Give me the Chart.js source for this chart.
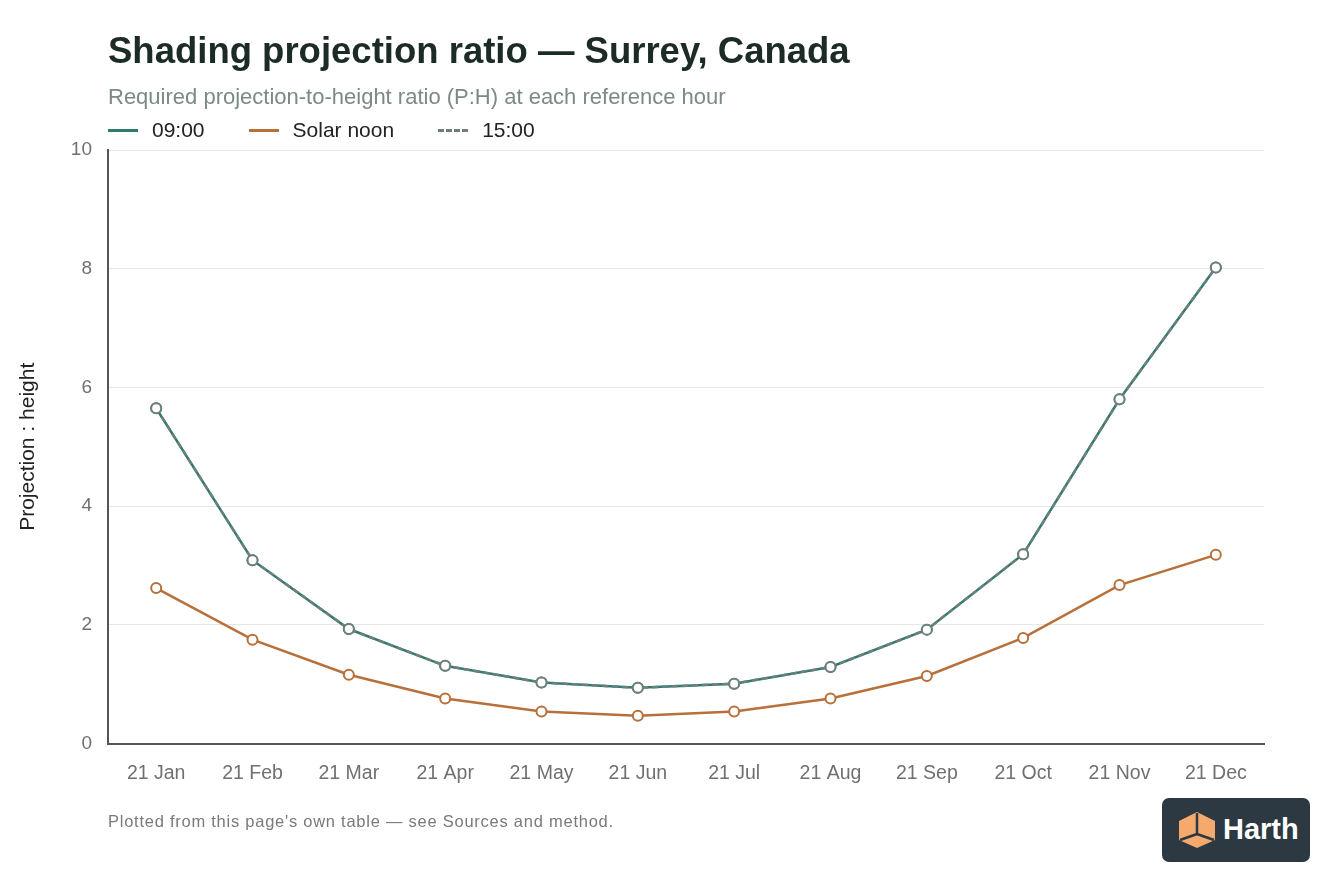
<!DOCTYPE html>
<html>
<head>
<meta charset="utf-8">
<script src="https://cdn.jsdelivr.net/npm/chart.js@4.4.1/dist/chart.umd.min.js"></script>
<style>
  body { margin: 0; background: #fff; font-family: "Liberation Sans", Arial, sans-serif; }
  #wrap { position: relative; width: 1344px; height: 896px; overflow: hidden; }
  #title { position: absolute; left: 108px; top: 30px; font-size: 36.5px; font-weight: bold; color: #1c2b26; white-space: nowrap; }
  #subtitle { position: absolute; left: 108px; top: 84px; font-size: 22px; color: #7b8a86; white-space: nowrap; }
  #legend { position: absolute; left: 108px; top: 118px; display: flex; font-size: 21px; color: #222; }
  .item { display: flex; align-items: center; margin-right: 44px; }
  .swatch { width: 30px; height: 0; margin-right: 14px; }
  #footer { position: absolute; left: 108px; top: 812px; font-size: 16.5px; letter-spacing: 0.75px; color: #7a7a7a; white-space: nowrap; }
  #logo { position: absolute; left: 1162px; top: 798px; width: 148px; height: 64px; background: #2c3942; border-radius: 7px; }
  #logo span { position: absolute; left: 61px; top: 15px; font-size: 29px; font-weight: bold; color: #fff; }
  #logo svg { position: absolute; left: 14px; top: 12px; }
  canvas { position: absolute; left: 0; top: 0; }
</style>
</head>
<body>
<div id="wrap">
  <canvas id="chart" width="1344" height="896"></canvas>
  <div id="title">Shading projection ratio — Surrey, Canada</div>
  <div id="subtitle">Required projection-to-height ratio (P:H) at each reference hour</div>
  <div id="legend"></div>
  <div id="footer">Plotted from this page's own table — see Sources and method.</div>
  <div id="logo">
    <svg width="42" height="40" viewBox="0 0 42 40">
      <polygon points="21,2 39,11 39,30 21,38 3,30 3,11" fill="#f6a96c"/>
      <polyline points="21,3 21,24 4,30" fill="none" stroke="#2c3942" stroke-width="2.5"/>
      <line x1="21" y1="24" x2="38" y2="30" stroke="#2c3942" stroke-width="2.5"/>
    </svg>
    <span>Harth</span>
  </div>
</div>
<script>
// Data
const months = ['21 Jan', '21 Feb', '21 Mar', '21 Apr', '21 May', '21 Jun',
                '21 Jul', '21 Aug', '21 Sep', '21 Oct', '21 Nov', '21 Dec'];
const ratio0900 = [5.65, 3.09, 1.93, 1.31, 1.03, 0.94, 1.01, 1.29, 1.92, 3.19, 5.80, 8.02];
const ratioNoon = [2.62, 1.75, 1.16, 0.76, 0.54, 0.47, 0.54, 0.76, 1.14, 1.78, 2.67, 3.18];
const ratio1500 = [5.65, 3.09, 1.93, 1.31, 1.03, 0.94, 1.01, 1.29, 1.92, 3.19, 5.80, 8.02];
const yTicks = [0, 2, 4, 6, 8, 10];

const teal = '#2e7b72';
const orange = '#b8703a';
const grey = '#6f807c';

function series(label, data, color, dash, order) {
  return {
    label: label,
    data: data,
    borderColor: color,
    borderWidth: 2.5,
    borderDash: dash,
    pointRadius: 5,
    pointBorderWidth: 2,
    pointBorderColor: color,
    pointBackgroundColor: '#fff',
    tension: 0,
    order: order
  };
}

const datasets = [
  series('09:00', ratio0900, teal, [], 3),
  series('Solar noon', ratioNoon, orange, [], 2),
  series('15:00', ratio1500, grey, [6, 4], 1)
];

// Build the legend above the chart
const legend = document.getElementById('legend');
datasets.forEach(ds => {
  const item = document.createElement('div');
  item.className = 'item';
  const sw = document.createElement('div');
  sw.className = 'swatch';
  sw.style.borderTop = '3px ' + (ds.borderDash.length ? 'dashed ' : 'solid ') + ds.borderColor;
  item.appendChild(sw);
  const txt = document.createElement('span');
  txt.innerText = ds.label;
  item.appendChild(txt);
  legend.appendChild(item);
});

const ctx = document.getElementById('chart');
const myChart = new Chart(ctx, {
  type: 'line',
  data: { labels: months, datasets: datasets },
  options: {
    responsive: false,
    animation: false,
    devicePixelRatio: 1,
    layout: { padding: { left: 16, top: 150, right: 80, bottom: 93 } },
    plugins: { legend: { display: false }, tooltip: { enabled: false } },
    scales: {
      x: {
        offset: true,
        grid: { display: false, drawTicks: false },
        border: { color: '#555', width: 2 },
        ticks: { color: '#707070', font: { size: 19.5, family: 'Liberation Sans' }, padding: 18 }
      },
      y: {
        min: 0,
        max: 10,
        afterBuildTicks: (scale) => { scale.ticks = yTicks.map(v => ({ value: v })); },
        afterFit: (scale) => { scale.width = 92; },
        grid: { color: '#e6e6e6', drawTicks: false },
        border: { color: '#555', width: 2 },
        ticks: { color: '#707070', font: { size: 19, family: 'Liberation Sans' }, padding: 16 },
        title: {
          display: true,
          text: 'Projection : height',
          color: '#222',
          font: { size: 21, family: 'Liberation Sans' },
          padding: { top: 0, bottom: 0 }
        }
      }
    }
  }
});
</script>
</body>
</html>
